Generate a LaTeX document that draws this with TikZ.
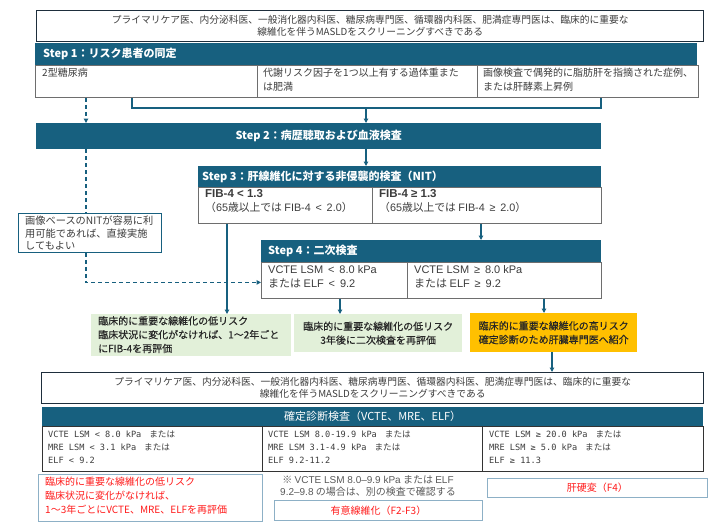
\documentclass[tikz,border=0pt]{standalone}
\usepackage{fontspec}
\setmainfont{Noto Sans CJK JP}
\newfontfamily\monof{DejaVu Sans Mono}
\newfontfamily\lat{Liberation Sans}
\newfontfamily\medf{Noto Sans CJK JP}[FakeBold=0.4]
\usetikzlibrary{arrows.meta}
\definecolor{hdr}{HTML}{17607F}
\definecolor{topc}{HTML}{1E2E3C}
\definecolor{cellc}{HTML}{6E6E6E}
\definecolor{txtc}{HTML}{3C3C3C}
\definecolor{grn}{HTML}{E2F0D9}
\definecolor{org}{HTML}{FFC000}
\definecolor{lbord}{HTML}{8DB0C6}
\definecolor{redt}{HTML}{FF1A1A}
\newcommand\mn[1]{{\monof #1}}
\tikzset{
  topbox/.style={draw=topc, line width=1.4pt, anchor=north west, inner sep=0pt},
  hdrbox/.style={fill=hdr, draw=none, anchor=north west, inner sep=0pt},
  cellbox/.style={draw=cellc, line width=0.8pt, anchor=north west, inner sep=0pt},
  notebox/.style={draw=hdr, line width=0.8pt, anchor=north west, inner sep=0pt},
  lbox/.style={draw=lbord, line width=0.9pt, anchor=north west, inner sep=0pt},
  fillbox/.style={draw=none, anchor=north west, inner sep=0pt},
  lbl/.style={anchor=north west, inner sep=0pt, align=left, text=txtc, font=\fontsize{10}{14}\selectfont},
  clbl/.style={anchor=center, inner sep=0pt, align=center, text=txtc, font=\fontsize{9.75}{12}\selectfont},
  hlbl/.style={inner sep=0pt, text=white, font=\fontsize{11}{13}\selectfont\bfseries},
  monolbl/.style={anchor=north west, inner sep=0pt, align=left, text=txtc, font=\fontsize{8.6}{13.3}\selectfont},
  ln/.style={draw=hdr, line width=1.1pt},
  arr/.style={draw=hdr, line width=1.1pt, -{Triangle[length=4.5pt,width=4.5pt]}},
  dsh/.style={draw=hdr, line width=1.1pt, dash pattern=on 4pt off 3pt},
}
\begin{document}
\begin{tikzpicture}[x=1pt,y=-1pt]
\useasboundingbox (0,0) rectangle (720,530);
% ---------- top statement
\node[topbox, minimum width=667pt, minimum height=31pt] (T1) at (36,10) {};
\node[clbl] (T1t) at (T1.center) {プライマリケア医、内分泌科医、一般消化器内科医、糖尿病専門医、循環器内科医、肥満症専門医は、臨床的に重要な\\線維化を伴うMASLDをスクリーニングすべきである};
% ---------- Step 1
\node[hdrbox, minimum width=662pt, minimum height=22pt] (H1) at (35,43) {};
\node[hlbl, anchor=west] (H1t) at ([xshift=8pt]H1.west) {Step 1：リスク患者の同定};
\node[cellbox, minimum width=222pt, minimum height=32pt] (c11) at (35,65) {};
\node[cellbox, minimum width=220pt, minimum height=32pt] (c12) at (257,65) {};
\node[cellbox, minimum width=221pt, minimum height=32pt] (c13) at (477,65) {};
\node[lbl] (c11t) at (42,68) {2型糖尿病};
\node[lbl] (c12t) at (263,68) {代謝リスク因子を1つ以上有する過体重また\\は肥満};
\node[lbl] (c13t) at (483,68) {画像検査で偶発的に脂肪肝を指摘された症例、\\または肝酵素上昇例};
% ---------- Step 2
\node[hdrbox, minimum width=565pt, minimum height=26pt] (H2) at (36,123) {};
\node[hlbl] (H2t) at (H2.center) {Step 2：病歴聴取および血液検査};
% ---------- Step 3
\node[hdrbox, minimum width=403pt, minimum height=21pt] (H3) at (198,166) {};
\node[hlbl, anchor=west] (H3t) at ([xshift=4pt]H3.west) {Step 3：肝線維化に対する非侵襲的検査（NIT）};
\node[cellbox, minimum width=174pt, minimum height=36pt] (c31) at (198,187) {};
\node[cellbox, minimum width=229pt, minimum height=36pt] (c32) at (372,187) {};
\node[lbl, font=\fontsize{10.8}{14}\selectfont] (c31t) at (205,189.5) {{\fontsize{11.5}{14}\selectfont\lat\bfseries FIB-4 < 1.3}\\（{\lat 65}歳以上では {\lat FIB-4 \,<\, 2.0}）};
\node[lbl, font=\fontsize{10.8}{14}\selectfont] (c32t) at (379,189.5) {{\fontsize{11.5}{14}\selectfont\lat\bfseries FIB-4 ≥ 1.3}\\（{\lat 65}歳以上では {\lat FIB-4 \,≥\, 2.0}）};
% ---------- note
\node[notebox, minimum width=143pt, minimum height=39pt] (N) at (18,213) {};
\node[lbl, font=\fontsize{10.2}{12.8}\selectfont] (Nt) at (25,215.5) {画像ベースのNITが容易に利\\用可能であれば、直接実施\\してもよい};
% ---------- Step 4
\node[hdrbox, minimum width=340pt, minimum height=22pt] (H4) at (261,240) {};
\node[hlbl, anchor=west] (H4t) at ([xshift=7pt]H4.west) {Step 4：二次検査};
\node[cellbox, minimum width=146pt, minimum height=36pt] (c41) at (261,262) {};
\node[cellbox, minimum width=194pt, minimum height=36pt] (c42) at (407,262) {};
\node[lbl, font=\fontsize{11}{14}\selectfont] (c41t) at (268,265) {{\lat VCTE LSM \,<\, 8.0 kPa}\\または {\lat ELF \,<\, 9.2}};
\node[lbl, font=\fontsize{11}{14}\selectfont] (c42t) at (414,265) {{\lat VCTE LSM \,≥\, 8.0 kPa}\\または {\lat ELF \,≥\, 9.2}};
% ---------- outcome boxes
\node[fillbox, fill=grn, minimum width=200pt, minimum height=42pt] (G1) at (91,314) {};
\node[lbl, text=black!85, font=\fontsize{10}{13.8}\selectfont\medf] (G1t) at (98,316) {臨床的に重要な線維化の低リスク\\臨床状況に変化がなければ、1～2年ごと\\にFIB-4を再評価};
\node[fillbox, fill=grn, minimum width=168pt, minimum height=38pt] (G2) at (294,314) {};
\node[clbl, text=black!85, font=\fontsize{10}{13.8}\selectfont\medf] (G2t) at (G2.center) {臨床的に重要な線維化の低リスク\\3年後に二次検査を再評価};
\node[fillbox, fill=org, minimum width=167pt, minimum height=39pt] (O) at (470,313) {};
\node[clbl, text=black!85, font=\fontsize{10}{13.8}\selectfont\medf] (Ot) at (O.center) {臨床的に重要な線維化の高リスク\\確定診断のため肝臓専門医へ紹介};
% ---------- bottom statement
\node[topbox, minimum width=662pt, minimum height=31pt] (T2) at (41,372) {};
\node[clbl] (T2t) at (T2.center) {プライマリケア医、内分泌科医、一般消化器内科医、糖尿病専門医、循環器内科医、肥満症専門医は、臨床的に重要な\\線維化を伴うMASLDをスクリーニングすべきである};
% ---------- definitive tests
\node[hdrbox, minimum width=661pt, minimum height=19pt] (H5) at (42,407) {};
\node[hlbl, font=\fontsize{11}{13}\selectfont] (H5t) at (H5.center) {確定診断検査（VCTE、MRE、ELF）};
\node[cellbox, line width=1pt, draw=black!80, minimum width=220pt, minimum height=45pt] (c51) at (42,426) {};
\node[cellbox, line width=1pt, draw=black!80, minimum width=220pt, minimum height=45pt] (c52) at (262,426) {};
\node[cellbox, line width=1pt, draw=black!80, minimum width=221pt, minimum height=45pt] (c53) at (482,426) {};
\node[monolbl] (c51t) at (48,430) {\mn{VCTE LSM < 8.0 kPa}\hspace{8pt}または\\\mn{MRE LSM < 3.1 kPa}\hspace{8pt}または\\\mn{ELF < 9.2}};
\node[monolbl] (c52t) at (268,430) {\mn{VCTE LSM 8.0-19.9 kPa}\hspace{8pt}または\\\mn{MRE LSM 3.1-4.9 kPa}\hspace{8pt}または\\\mn{ELF 9.2-11.2}};
\node[monolbl] (c53t) at (489,430) {\mn{VCTE LSM ≥ 20.0 kPa}\hspace{8pt}または\\\mn{MRE LSM ≥ 5.0 kPa}\hspace{8pt}または\\\mn{ELF ≥ 11.3}};
% ---------- results
\node[lbox, minimum width=224pt, minimum height=47pt] (B1) at (38,474) {};
\node[lbl, text=redt, font=\fontsize{10}{14}\selectfont] (B1t) at (45,477) {臨床的に重要な線維化の低リスク\\臨床状況に変化がなければ、\\1～3年ごとにVCTE、MRE、ELFを再評価};
\node[clbl, text=black!65, font=\fontsize{10}{12.5}\selectfont] (NT) at (368,486) {※ {\lat VCTE LSM 8.0–9.9 kPa} または {\lat ELF}\\{\lat 9.2–9.8} の場合は、別の検査で確認する};
\node[lbox, minimum width=208pt, minimum height=20pt] (B2) at (274,500) {};
\node[clbl, text=redt, font=\fontsize{10}{12}\selectfont] (B2t) at (B2.center) {有意線維化（F2-F3）};
\node[lbox, minimum width=220pt, minimum height=19pt] (B3) at (487,478) {};
\node[clbl, text=redt, font=\fontsize{10}{12}\selectfont] (B3t) at (B3.center) {肝硬変（F4）};
% ---------- connector coordinates
\coordinate (xd) at (86,0);
\coordinate (xb1) at (132,0);
\coordinate (xb2) at (601,0);
\coordinate (xm) at (366,0);
\coordinate (yb) at (0,108);
\coordinate (xl3) at (227,0);
\coordinate (xr3) at (481,0);
\coordinate (xl4) at (340,0);
\coordinate (xr4) at (544,0);
\coordinate (xo) at (552,0);
% ---------- connectors
\draw[dsh, -{Triangle[length=4.5pt,width=4.5pt]}] (c11.south -| xd) -- (H2.north -| xd);
\draw[ln] (c11.south -| xb1) |- (yb -| xb2) -- (c13.south -| xb2);
\draw[arr] (yb -| xm) -- (H2.north -| xm);
\draw[arr] (H2.south -| xm) -- (H3.north -| xm);
\draw[dsh] (H2.south -| xd) -- (N.north -| xd);
\draw[dsh, -{Triangle[length=4.5pt,width=4.5pt]}] (N.south -| xd) |- ([yshift=-2pt]c41.west);
\draw[arr] (c31.south -| xl3) -- (G1.north -| xl3);
\draw[arr] (c32.south -| xr3) -- (H4.north -| xr3);
\draw[arr] (c41.south -| xl4) -- (G2.north -| xl4);
\draw[arr] (c42.south -| xr4) -- (O.north -| xr4);
\draw[arr] (O.south -| xo) -- (T2.north -| xo);
\end{tikzpicture}
\end{document}
